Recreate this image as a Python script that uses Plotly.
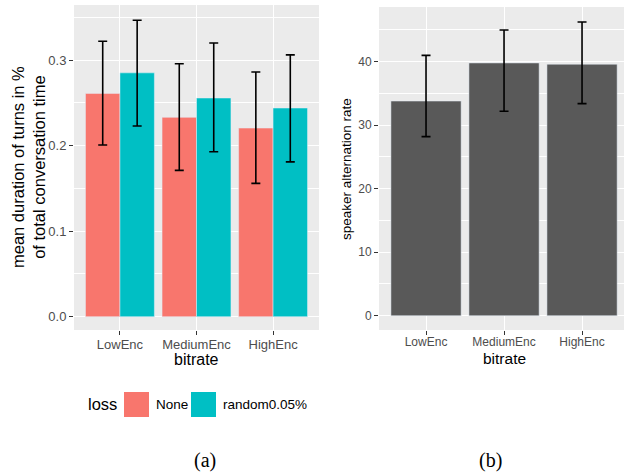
import plotly.graph_objects as go

# ---- data ----
categories = ["LowEnc", "MediumEnc", "HighEnc"]
loss_levels = ["None", "random0.05%"]
dur_none = [0.261, 0.233, 0.2205]
dur_none_lo = [0.2006, 0.171, 0.1558]
dur_none_hi = [0.322, 0.2957, 0.286]
dur_rand = [0.285, 0.2556, 0.2439]
dur_rand_lo = [0.2228, 0.1927, 0.181]
dur_rand_hi = [0.3464, 0.3199, 0.306]
alt_rate = [33.8, 39.8, 39.6]
alt_lo = [28.2, 32.2, 33.4]
alt_hi = [41.0, 45.0, 46.25]
left_yticks = [0.0, 0.1, 0.2, 0.3]
right_yticks = [0, 10, 20, 30, 40]
colors = ["#F8766D", "#00BFC4"]

W, H = 624, 472
def px(x):
    return x / W
def py(y):
    return 1 - y / H

fig = go.Figure()

def err(v, lo, hi):
    return dict(type="data", symmetric=False,
                array=[h - a for a, h in zip(v, hi)],
                arrayminus=[a - l for a, l in zip(v, lo)],
                color="black", thickness=1.6, width=4.5)

fig.add_trace(go.Bar(x=categories, y=dur_none, name=loss_levels[0],
                     marker=dict(color=colors[0]), error_y=err(dur_none, dur_none_lo, dur_none_hi),
                     xaxis="x", yaxis="y", showlegend=False))
fig.add_trace(go.Bar(x=categories, y=dur_rand, name=loss_levels[1],
                     marker=dict(color=colors[1]), error_y=err(dur_rand, dur_rand_lo, dur_rand_hi),
                     xaxis="x", yaxis="y", showlegend=False))
fig.add_trace(go.Bar(x=categories, y=alt_rate, name="rate",
                     marker=dict(color="#595959"), error_y=err(alt_rate, alt_lo, alt_hi),
                     xaxis="x2", yaxis="y2", showlegend=False))

tickfont_l = dict(family="Liberation Sans, Arial", size=13, color="#4D4D4D")
tickfont_r = dict(family="Liberation Sans, Arial", size=12, color="#4D4D4D")
common_x = dict(type="category", showgrid=True, gridcolor="white", gridwidth=1.2,
                ticks="outside", ticklen=4, tickcolor="#333333", tickwidth=1,
                zeroline=False, showline=False, fixedrange=True)
common_y = dict(showgrid=True, gridcolor="white", gridwidth=1.2,
                ticks="outside", ticklen=4, tickcolor="#333333", tickwidth=1,
                zeroline=False, showline=False, fixedrange=True)

fig.update_layout(
    width=W, height=H,
    margin=dict(l=0, r=0, t=0, b=0),
    paper_bgcolor="white",
    plot_bgcolor="#EBEBEB",
    barmode="group", bargap=0.1, bargroupgap=0,
    showlegend=False,
    xaxis=dict(common_x, domain=[px(74), px(319)], range=[-0.6, 2.6],
               tickfont=tickfont_l, ticklabelstandoff=-2, anchor="y"),
    yaxis=dict(common_y, domain=[py(330), py(5)], range=[-0.01554, 0.3643],
               tickvals=left_yticks, tickformat=".1f", tickfont=tickfont_l,
               minor=dict(dtick=0.05, tick0=0, showgrid=True, gridcolor="white",
                          gridwidth=0.6, ticklen=0),
               anchor="x"),
    xaxis2=dict(common_x, domain=[px(379), 1.0], range=[-0.603, 2.538],
                tickfont=tickfont_r, ticklabelstandoff=-3, anchor="y2"),
    yaxis2=dict(common_y, domain=[py(330), py(7)], range=[-2.25, 48.61],
                tickvals=right_yticks, tickfont=tickfont_r,
                minor=dict(dtick=5, tick0=0, showgrid=True, gridcolor="white",
                           gridwidth=0.6, ticklen=0),
                anchor="x2"),
)

sans = "Liberation Sans, Arial"
serif = "Liberation Serif, Times New Roman"
ann = []
def add_text(text, x, y, size, family=sans, xanchor="center", angle=0, color="black"):
    ann.append(dict(text=text, x=px(x), y=py(y), xref="paper", yref="paper",
                    xanchor=xanchor, yanchor="middle", textangle=angle,
                    showarrow=False, font=dict(family=family, size=size, color=color)))

# axis titles
add_text("bitrate", 196.5, 359, 16)
add_text("bitrate", 504, 358, 15.5)
add_text("mean duration of turns in %<br>of total conversation time", 28.5, 167.5, 16.5, angle=-90)
add_text("speaker alternation rate", 346.5, 169.5, 13.5, angle=-90)
# legend (manual, ggplot style keys)
add_text("loss", 86, 404, 16.5, xanchor="left")
shapes = []
key_x = [124, 191]
lab_x = [154, 221]
for i, lvl in enumerate(loss_levels):
    shapes.append(dict(type="rect", xref="paper", yref="paper",
                       x0=px(key_x[i]), x1=px(key_x[i] + 25), y0=py(417), y1=py(392),
                       fillcolor=colors[i], line=dict(width=0)))
    add_text(lvl, lab_x[i], 404.5, 13.5, xanchor="left")
# captions
add_text("(a)", 205, 460, 20, family=serif)
add_text("(b)", 490, 460, 20, family=serif)

fig.update_layout(annotations=ann, shapes=shapes)
fig.write_html("out.html")
